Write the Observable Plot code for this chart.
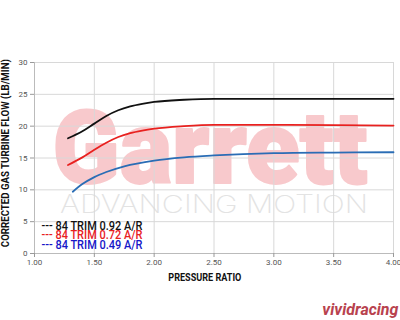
<!DOCTYPE html>
<html>
<head>
<meta charset="utf-8">
<script src="https://cdn.jsdelivr.net/npm/d3@7"></script>
<script src="https://cdn.jsdelivr.net/npm/@observablehq/plot@0.6"></script>
<style>
  html, body { margin: 0; padding: 0; background: #fff; }
  #chart svg { display: block; }
</style>
</head>
<body>
<div id="chart"></div>
<script>
// Pressure ratio (x) and corrected gas turbine flow (y)
const prBlack = [1.28, 1.4, 1.5, 1.6, 1.7, 1.8, 1.9, 2.0, 2.25, 2.5, 3.0, 3.5, 4.0];
const flowBlack = [18.1, 19.2, 20.4, 21.6, 22.5, 23.1, 23.5, 23.8, 24.15, 24.3, 24.3, 24.3, 24.3];
const prRed = [1.28, 1.4, 1.5, 1.6, 1.7, 1.8, 1.9, 2.0, 2.25, 2.5, 3.0, 3.5, 4.0];
const flowRed = [13.9, 15.1, 16.3, 17.4, 18.3, 18.9, 19.3, 19.6, 20.0, 20.2, 20.2, 20.15, 20.1];
const prBlue = [1.32, 1.4, 1.5, 1.6, 1.75, 2.0, 2.25, 2.5, 3.0, 3.5, 4.0];
const flowBlue = [9.7, 10.9, 12.0, 12.8, 13.7, 14.6, 15.1, 15.4, 15.75, 15.85, 15.9];

const seriesNames = ["84 TRIM 0.92 A/R", "84 TRIM 0.72 A/R", "84 TRIM 0.49 A/R"];
const lineColors = ["#111111", "#e8211f", "#2a6db5"];
const legendColors = ["#111111", "#e8211f", "#1616c8"];
const xTicks = [1.0, 1.5, 2.0, 2.5, 3.0, 3.5, 4.0];
const yTicks = [0, 5, 10, 15, 20, 25, 30];

const toRows = (xs, ys) => xs.map((x, i) => ({x, y: ys[i]}));
const series = [toRows(prBlack, flowBlack), toRows(prRed, flowRed), toRows(prBlue, flowBlue)];

const chart = Plot.plot({
  width: 400,
  height: 320,
  marginLeft: 34,
  marginRight: 7,
  marginTop: 62,
  marginBottom: 67,
  style: {fontFamily: "Roboto, sans-serif", background: "#fff"},
  x: {domain: [1, 4]},
  y: {domain: [0, 30]},
  marks: [
    Plot.text(["Garrett"], {frameAnchor: "middle", lineAnchor: "middle", text: d => d, fontSize: 102, fontWeight: 900,
      fill: "#f8c9cc", stroke: "#f8c9cc", strokeWidth: 2, dx: -4, dy: -8, className: "wm-garrett"}),
    Plot.text(["ADVANCING MOTION"], {frameAnchor: "middle", lineAnchor: "middle", text: d => d, fontSize: 25, fontWeight: 200,
      fontFamily: "Inter, Lato, Roboto, sans-serif", fill: "#e3e3e3", dx: 0, dy: 47, className: "wm-adv"}),
    Plot.gridX(xTicks, {stroke: "#d8d8d8", strokeOpacity: 1}),
    Plot.gridY(yTicks, {stroke: "#d8d8d8", strokeOpacity: 1}),
    Plot.ruleY([0], {stroke: "#bbb"}),
    Plot.ruleX([1], {stroke: "#bbb"}),
    Plot.axisX({ticks: xTicks, tickFormat: d3.format(".2f"), tickSize: 4, tickPadding: 2, stroke: "#999",
      fontSize: 8, color: "#555", label: null}),
    Plot.axisY({ticks: yTicks, tickSize: 4, tickPadding: 3, stroke: "#999", fontSize: 8, color: "#555", label: null}),
    ...series.map((rows, i) => Plot.line(rows, {x: "x", y: "y", curve: "monotone-x", stroke: lineColors[i], strokeWidth: 1.8})),
    ...seriesNames.map((name, i) => Plot.text([name], {frameAnchor: "bottom-left", lineAnchor: "middle", text: d => "--- " + d,
      textAnchor: "start", fontSize: 12.5, fontWeight: 500, fill: legendColors[i], dx: 7, dy: -28 + i * 9.8, className: "leg"})),
    Plot.text(["CORRECTED GAS TURBINE FLOW (LB/MIN)"], {frameAnchor: "left", lineAnchor: "middle", text: d => d, rotate: -90,
      fontSize: 10.5, fontWeight: "bold", fill: "#111", dx: -29, dy: -5, className: "ylab"}),
    Plot.text(["PRESSURE RATIO"], {frameAnchor: "bottom", lineAnchor: "middle", text: d => d, fontSize: 11, fontWeight: "bold",
      fill: "#111", dx: -9, dy: 24, className: "xlab"}),
    Plot.text(["vividracing"], {frameAnchor: "bottom-right", lineAnchor: "middle", text: d => d, textAnchor: "end", fontSize: 16,
      fontWeight: "bold", fontStyle: "italic", fill: "#b8424e", dx: 5, dy: 56, className: "logo"})
  ]
});

document.getElementById("chart").appendChild(chart);

// compress texts to the widths seen in the reference, keeping their anchor
function fit(cls, len, anchor) {
  d3.select(chart).selectAll("g." + cls + " text").each(function() {
    const x0 = +(this.getAttribute("x") || 0);
    this.setAttribute("text-anchor", "start");
    this.setAttribute("textLength", len);
    this.setAttribute("lengthAdjust", "spacingAndGlyphs");
    const b = this.getBBox();
    const ref = anchor === "end" ? b.x + b.width : anchor === "start" ? b.x : b.x + b.width / 2;
    this.setAttribute("x", x0 + (x0 - ref));
  });
}
fit("wm-garrett", 315, "middle");
fit("wm-adv", 308, "middle");
fit("ylab", 188, "middle");
fit("xlab", 73, "middle");
fit("logo", 76, "end");
fit("leg", 101, "start");
</script>
</body>
</html>
